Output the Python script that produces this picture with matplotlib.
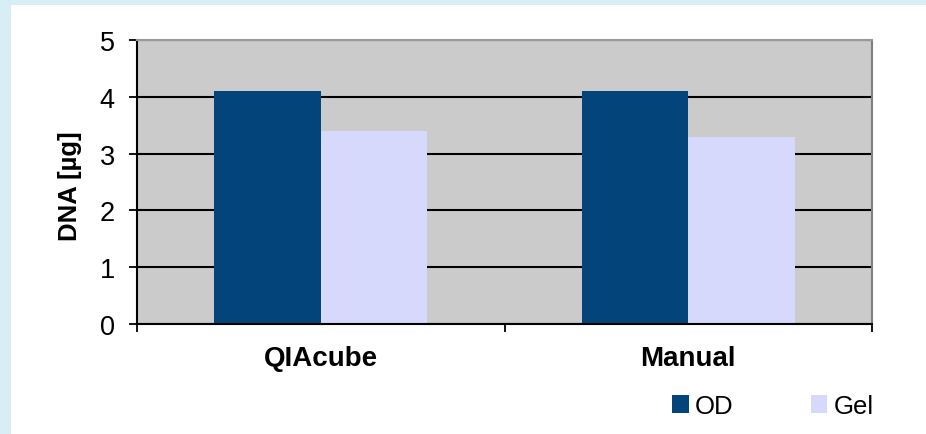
import matplotlib
matplotlib.use('Agg')
import matplotlib.pyplot as plt
from matplotlib.patches import Rectangle
import numpy as np

# ---- data ----
categories = ["QIAcube", "Manual"]
od_values = [4.1, 4.1]
gel_values = [3.4, 3.3]
series_names = ["OD", "Gel"]
y_ticks = [0, 1, 2, 3, 4, 5]

# ---- style ----
OD_COLOR = "#03447A"
GEL_COLOR = "#D6D8FC"
PLOT_BG = "#CBCBCB"
FRAME_BG = "#D7EEF6"
BAR_W = 0.29

plt.rcParams['font.family'] = ['Liberation Sans', 'DejaVu Sans']

W, H = 926, 435
fig = plt.figure(figsize=(W / 100, H / 100), dpi=100)
fig.patch.set_facecolor(FRAME_BG)
# white inner panel
fig.patches.append(Rectangle((11 / W, 0), 1 - 11 / W, 1 - 6 / H,
                             transform=fig.transFigure, facecolor='white',
                             edgecolor='none', zorder=-10))

ax = fig.add_axes([137 / W, 1 - 325 / H, (872 - 137) / W, (325 - 41) / H])
ax.set_facecolor(PLOT_BG)

x = np.arange(len(categories)) + 0.5
ax.bar(x - BAR_W / 2, od_values, BAR_W, color=OD_COLOR, label=series_names[0], zorder=3)
ax.bar(x + BAR_W / 2, gel_values, BAR_W, color=GEL_COLOR, label=series_names[1], zorder=3)

ax.set_xlim(0, len(categories))
ax.set_ylim(0, 5)

# black gridlines
ax.set_axisbelow(True)
ax.yaxis.grid(True, color='black', lw=1.5)

ax.set_yticks(y_ticks)
ax.set_yticklabels([str(v) for v in y_ticks], fontsize=19.5)
ax.tick_params(axis='y', direction='out', length=6, width=1.3, pad=10, color='black')

ax.set_xticks(np.arange(len(categories) + 1))
ax.set_xticklabels([])
ax.set_xticks(x, minor=True)
ax.set_xticklabels(categories, minor=True, fontsize=20, fontweight='bold')
ax.tick_params(axis='x', which='major', direction='out', length=6, width=1.3)
ax.tick_params(axis='x', which='minor', length=0, pad=15)

ax.spines['left'].set_linewidth(1.5)
ax.spines['bottom'].set_linewidth(1.5)
ax.spines['top'].set_color('#999999')
ax.spines['top'].set_linewidth(1.5)
ax.spines['right'].set_color('#808080')
ax.spines['right'].set_linewidth(1.5)
for s in ax.spines.values():
    s.set_zorder(4)

fig.text(70 / W, 1 - 186 / H, "DNA [µg]", rotation=90, ha='center', va='center',
         fontsize=18.5, fontweight='bold')

ax.legend(loc='center left', bbox_to_anchor=(659 / W, 1 - 407 / H),
          bbox_transform=fig.transFigure, ncol=2, frameon=False,
          fontsize=18.5, handlelength=0.65, handleheight=0.65, handletextpad=0.25,
          columnspacing=3.0, borderpad=0)

fig.savefig("out.png", dpi=100, facecolor=fig.get_facecolor())
